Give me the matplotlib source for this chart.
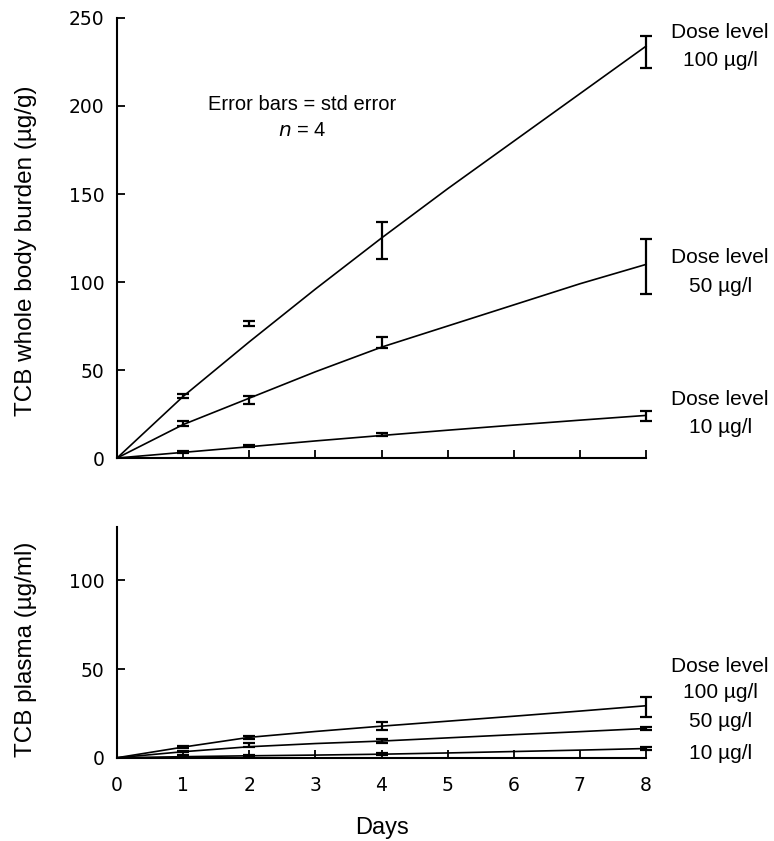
import numpy as np
import matplotlib
matplotlib.use("Agg")
import matplotlib.pyplot as plt

# sampled days and fitted-curve days
days = [1, 2, 4, 8]
curve_days = [0, 1, 2, 3, 4, 5, 6, 7, 8]

# whole body burden (ug/g), mean and std error
body_100 = [35.3, 76.4, 123.8, 230.5]
body_100_se = [1.2, 1.5, 10.5, 9.0]
body_50 = [19.8, 33.0, 65.6, 109.0]
body_50_se = [1.5, 2.2, 3.3, 15.7]
body_10 = [3.2, 6.6, 13.2, 24.0]
body_10_se = [0.5, 0.6, 0.8, 2.7]

body_100_fit = [0, 35, 66, 96, 125, 153, 180, 207, 234]
body_50_fit = [0, 19, 34, 49, 63, 75, 87, 99, 110]
body_10_fit = [0, 3.2, 6.4, 9.7, 12.8, 15.8, 18.7, 21.5, 24.2]

# plasma (ug/ml)
plasma_100 = [6.0, 11.5, 17.8, 28.7]
plasma_100_se = [0.5, 0.8, 2.4, 5.6]
plasma_50 = [3.5, 7.2, 9.4, 16.5]
plasma_50_se = [0.4, 1.0, 1.0, 0.8]
plasma_10 = [1.0, 1.5, 2.0, 5.2]
plasma_10_se = [0.3, 0.3, 0.5, 0.8]

plasma_100_fit = [0, 6.0, 11.5, 14.8, 17.8, 20.6, 23.4, 26.3, 29.3]
plasma_50_fit = [0, 3.4, 6.2, 8.0, 9.4, 11.2, 13.0, 14.7, 16.5]
plasma_10_fit = [0, 0.6, 1.1, 1.5, 2.0, 2.7, 3.5, 4.3, 5.2]

body_labels = [(242, "Dose level"), (226, "100 \u00b5g/l"),
               (113.8, "Dose level"), (97.3, "50 \u00b5g/l"),
               (33.5, "Dose level"), (17.5, "10 \u00b5g/l")]
plasma_labels = [(51.5, "Dose level"), (37.0, "100 \u00b5g/l"),
                 (20.7, "50 \u00b5g/l"), (2.5, "10 \u00b5g/l")]

LBL = "Liberation Sans"
TICK = "DejaVu Sans"

fig = plt.figure(figsize=(7.74, 8.41), dpi=100)
ax1 = fig.add_axes([0.1512, 0.4554, 0.6835, 0.5232])
ax2 = fig.add_axes([0.1512, 0.0990, 0.6835, 0.2743])


def draw(ax, means, ses, fits):
    for m, s, f in zip(means, ses, fits):
        ax.plot(curve_days, f, "-", c="black", lw=1.2, clip_on=False, zorder=3)
        ax.errorbar(days, m, yerr=s, fmt="none", ecolor="black", elinewidth=1.6,
                    capsize=4.5, capthick=1.6, clip_on=False, zorder=4)


draw(ax1, [body_100, body_50, body_10], [body_100_se, body_50_se, body_10_se],
     [body_100_fit, body_50_fit, body_10_fit])
draw(ax2, [plasma_100, plasma_50, plasma_10], [plasma_100_se, plasma_50_se, plasma_10_se],
     [plasma_100_fit, plasma_50_fit, plasma_10_fit])

ax1.set_ylim(0, 250)
ax1.set_yticks([0, 50, 100, 150, 200, 250])
ax2.set_ylim(0, 130)
ax2.set_yticks([0, 50, 100])

for ax in (ax1, ax2):
    ax.spines["top"].set_visible(False)
    ax.spines["right"].set_visible(False)
    for sp in ("left", "bottom"):
        ax.spines[sp].set_linewidth(1.5)
    ax.set_xlim(0, 8)
    ax.set_xticks(range(0, 9))
    ax.tick_params(direction="in", length=6, width=1.3)
    ax.tick_params(axis="y", pad=9)
    for lab in ax.get_yticklabels() + ax.get_xticklabels():
        lab.set_family(TICK)
        lab.set_fontsize(13.5)

ax1.tick_params(axis="x", labelbottom=False)
ax2.tick_params(axis="x", pad=13)

ax1.set_ylabel("TCB whole body burden (\u00b5g/g)", family=LBL, fontsize=17.5)
ax2.set_ylabel("TCB plasma (\u00b5g/ml)", family=LBL, fontsize=17.5)
ax2.set_xlabel("Days", family=LBL, fontsize=17)
ax1.yaxis.set_label_coords(-0.152, 0.47)
ax2.yaxis.set_label_coords(-0.152, 0.47)
ax2.xaxis.set_label_coords(0.5, -0.255)

ax1.text(2.8, 201, "Error bars = std error", family=LBL, fontsize=14.5,
         ha="center", va="center")
ax1.text(2.8, 186, "$\\it{n}$ = 4", family=LBL, fontsize=14.5, ha="center", va="center")

lx = 9.12
for y, s in body_labels:
    ax1.text(lx, y, s, family=LBL, fontsize=15, ha="center", va="center", clip_on=False)
for y, s in plasma_labels:
    ax2.text(lx, y, s, family=LBL, fontsize=15, ha="center", va="center", clip_on=False)

fig.savefig("out.png", dpi=100)
